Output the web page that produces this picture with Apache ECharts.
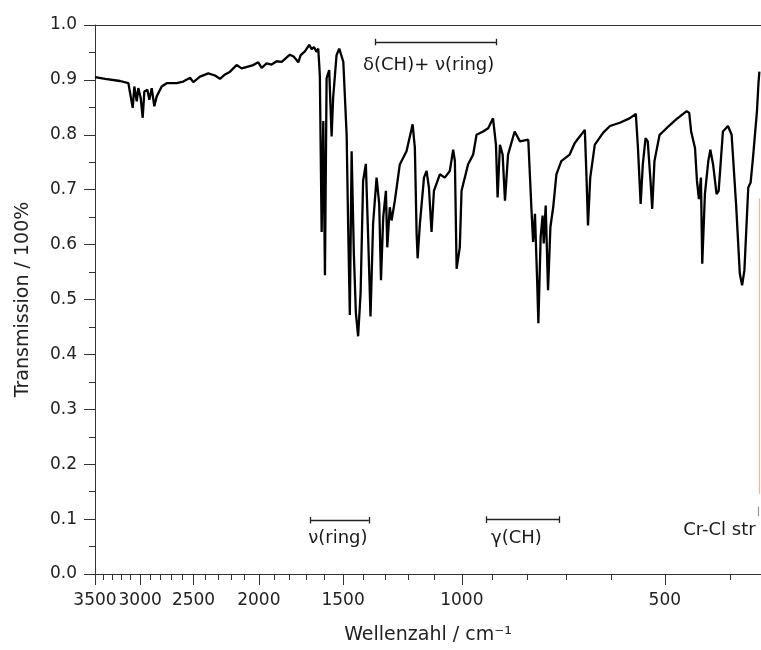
<!DOCTYPE html>
<html><head><meta charset="utf-8">
<script src="https://cdn.jsdelivr.net/npm/echarts@6/dist/echarts.min.js"></script>
<style>html,body{margin:0;padding:0;background:#fff}#c{width:761px;height:650px}</style>
</head><body><div id="c"></div>
<script>
// Spectrum (wavenumber in cm^-1, transmission 0..1)
const wavenumber = [3500,3480,3380,3213,3123,3077,3060,3035,3019,2994,2974,2957,2927,2907,2884,2858,2835,2787,2740,2648,2589,2530,2502,2445,2377,2323,2284,2245,2207,2158,2121,2039,2004,1981,1948,1915,1882,1850,1799,1774,1748,1734,1709,1684,1670,1657,1642,1633,1627,1624,1614,1605,1596,1587,1573,1560,1552,1534,1520,1499,1482,1474,1466,1457,1446,1436,1425,1413,1401,1388,1377,1366,1354,1338,1326,1318,1308,1296,1290,1279,1271,1257,1236,1208,1183,1174,1167,1163,1154,1138,1128,1119,1109,1100,1078,1060,1042,1030,1024,1018,1007,1001,979,962,951,930,914,899,890,885,878,870,863,854,835,820,797,788,784,779,773,770,764,759,756,751,745,739,732,724,712,692,680,657,653,650,645,635,617,603,583,564,552,548,543,539,534,530,525,522,518,509,497,481,464,460,457,451,448,445,442,440,436,431,428,424,419,416,410,403,398,392,387,384,381,376,373,370,365,363,362];
const transmission = [0.905,0.903,0.902,0.898,0.894,0.849,0.888,0.861,0.885,0.867,0.831,0.879,0.882,0.864,0.885,0.852,0.870,0.888,0.894,0.894,0.897,0.904,0.896,0.906,0.912,0.908,0.902,0.910,0.915,0.927,0.921,0.927,0.932,0.922,0.930,0.928,0.934,0.933,0.946,0.942,0.932,0.945,0.952,0.964,0.956,0.960,0.951,0.957,0.925,0.906,0.623,0.825,0.544,0.903,0.918,0.797,0.867,0.945,0.957,0.933,0.800,0.626,0.472,0.770,0.584,0.475,0.433,0.512,0.716,0.747,0.614,0.469,0.638,0.722,0.674,0.535,0.650,0.698,0.595,0.668,0.644,0.680,0.746,0.770,0.819,0.776,0.620,0.575,0.638,0.722,0.734,0.704,0.623,0.698,0.728,0.722,0.734,0.773,0.752,0.556,0.595,0.698,0.746,0.764,0.800,0.806,0.812,0.830,0.782,0.686,0.782,0.764,0.680,0.764,0.806,0.788,0.791,0.659,0.605,0.656,0.529,0.457,0.614,0.653,0.602,0.671,0.517,0.632,0.668,0.728,0.752,0.764,0.785,0.809,0.716,0.635,0.722,0.782,0.804,0.816,0.822,0.830,0.838,0.776,0.674,0.746,0.794,0.788,0.716,0.665,0.752,0.800,0.812,0.828,0.843,0.840,0.806,0.776,0.716,0.683,0.722,0.565,0.692,0.752,0.773,0.746,0.692,0.698,0.806,0.816,0.800,0.674,0.547,0.526,0.553,0.704,0.713,0.758,0.843,0.897,0.915];

// Axis ticks
const xMajorTicks = [3500,3000,2500,2000,1500,1000,500];
const xMinorTicks = [3400,3300,3200,3100,2900,2800,2700,2600,2400,2300,2200,2100,1900,1800,1700,1600,1400,1300,1200,1100,900,800,700,600,400];
const yTickLabels = ['0.0','0.1','0.2','0.3','0.4','0.5','0.6','0.7','0.8','0.9','1.0'];

// Annotation brackets (wavenumber ranges, level in transmission)
const bracketFrom = [1342,1676,919];
const bracketTo = [890,1374,716];
const bracketLevel = [0.969,0.098,0.099];
// Annotation texts
const labelText = ['δ(CH)+ ν(ring)','ν(ring)','γ(CH)','Cr-Cl str'];
const labelWn = [1120,1527,830,415];
const labelT = [0.926,0.065,0.065,0.080];
// Cut-off marker lines at right edge
const markerWn = [362,364];
const markerTop = [0.684,0.123];
const markerBottom = [0.146,0.105];

const FONT = 'DejaVu Sans';
const TXT = '#222';
const xMin = 360, xMax = 3500;

const bracketSegs = [];
const cap = 0.006;
for (let i = 0; i < bracketFrom.length; i++) {
  bracketSegs.push({coords: [[bracketFrom[i], bracketLevel[i]], [bracketTo[i], bracketLevel[i]]]});
  bracketSegs.push({coords: [[bracketFrom[i], bracketLevel[i] - cap], [bracketFrom[i], bracketLevel[i] + cap]]});
  bracketSegs.push({coords: [[bracketTo[i], bracketLevel[i] - cap], [bracketTo[i], bracketLevel[i] + cap]]});
}

const chart = echarts.init(document.getElementById('c'), null, {renderer: 'canvas'});
chart.setOption({
  animation: false,
  backgroundColor: '#fff',
  grid: {left: 95, right: 0, top: 25, bottom: 75, containLabel: false},
  xAxis: [
    {
      type: 'log', min: xMin, max: xMax, inverse: true, position: 'bottom',
      name: 'Wellenzahl / cm⁻¹', nameLocation: 'middle', nameGap: 52,
      nameTextStyle: {fontFamily: FONT, fontSize: 19, color: TXT},
      axisLine: {show: true, lineStyle: {color: '#333', width: 1}},
      axisTick: {show: true, length: 11, customValues: xMajorTicks, lineStyle: {color: '#333'}},
      axisLabel: {show: true, customValues: xMajorTicks, margin: 18, fontFamily: FONT, fontSize: 17, color: TXT, hideOverlap: false,
        formatter: v => String(Math.round(v))},
      splitLine: {show: false}, minorTick: {show: false}
    },
    {
      type: 'log', min: xMin, max: xMax, inverse: true, position: 'bottom',
      axisLine: {show: false},
      axisTick: {show: true, length: 6, customValues: xMinorTicks, lineStyle: {color: '#333'}},
      axisLabel: {show: false},
      splitLine: {show: false}
    },
    {
      type: 'log', min: xMin, max: xMax, inverse: true, position: 'top',
      axisLine: {show: true, lineStyle: {color: '#333', width: 1}},
      axisTick: {show: false}, axisLabel: {show: false}, splitLine: {show: false}
    }
  ],
  yAxis: {
    type: 'value', min: 0, max: 1, interval: 0.1,
    name: 'Transmission / 100%', nameLocation: 'middle', nameGap: 62,
    nameTextStyle: {fontFamily: FONT, fontSize: 19, color: TXT},
    axisLine: {show: true, lineStyle: {color: '#333', width: 1}},
    axisTick: {show: true, length: 11, lineStyle: {color: '#333'}},
    minorTick: {show: true, splitNumber: 2, length: 6, lineStyle: {color: '#333'}},
    axisLabel: {margin: 18, fontFamily: FONT, fontSize: 17, color: TXT,
      formatter: (v) => yTickLabels[Math.round(v * 10)]},
    splitLine: {show: false}
  },
  series: [
    {
      type: 'line', xAxisIndex: 0, yAxisIndex: 0,
      data: wavenumber.map((w, i) => [w, transmission[i]]),
      symbol: 'none', showSymbol: false,
      lineStyle: {color: '#000', width: 2.3},
      z: 5
    },
    {
      type: 'lines', coordinateSystem: 'cartesian2d', xAxisIndex: 0, yAxisIndex: 0,
      data: bracketSegs,
      lineStyle: {color: '#222', width: 1.3, opacity: 1},
      symbol: 'none', z: 4
    },
    {
      type: 'lines', coordinateSystem: 'cartesian2d', xAxisIndex: 0, yAxisIndex: 0,
      data: [
        {coords: [[markerWn[0], markerTop[0]], [markerWn[0], markerBottom[0]]], lineStyle: {color: '#f5b496'}},
        {coords: [[markerWn[1], markerTop[1]], [markerWn[1], markerBottom[1]]], lineStyle: {color: '#999'}}
      ],
      lineStyle: {width: 1.2, opacity: 1},
      symbol: 'none', z: 3
    },
    {
      type: 'scatter', xAxisIndex: 0, yAxisIndex: 0,
      data: labelWn.map((w, i) => [w, labelT[i], labelText[i]]),
      symbolSize: 1, itemStyle: {color: '#fff', opacity: 1},
      label: {show: true, position: 'inside', formatter: p => p.data[2],
        fontFamily: FONT, fontSize: 18, color: '#1a1a1a', opacity: 1, textBorderWidth: 0},
      emphasis: {disabled: true},
      z: 6
    }
  ]
});
</script></body></html>
